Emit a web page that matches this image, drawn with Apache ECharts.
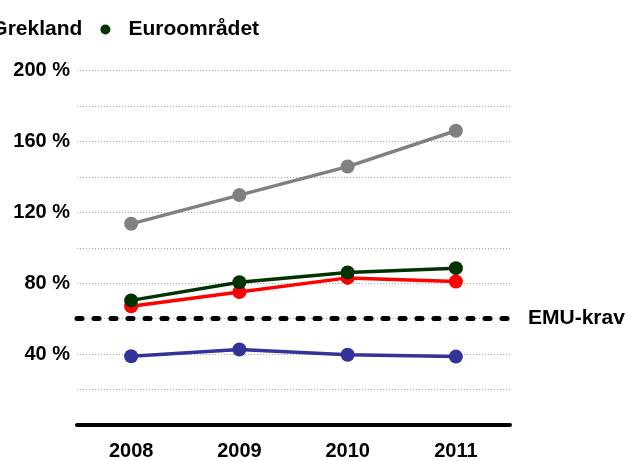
<!DOCTYPE html>
<html>
<head>
<meta charset="utf-8">
<script src="https://cdn.jsdelivr.net/npm/echarts@6/dist/echarts.min.js"></script>
<style>
  html, body { margin: 0; padding: 0; background: #fff; }
  #chart { width: 628px; height: 461px; }
</style>
</head>
<body>
<div id="chart"></div>
<script>
const years = ['2008', '2009', '2010', '2011']
const sverige = [38.8, 42.6, 39.6, 38.6]
const tyskland = [67, 75, 83, 81]
const grekland = [113.5, 129.7, 145.8, 166]
const euroomradet = [70.3, 80.5, 86, 88.5]
const emuKrav = 60

const FONT = '"Liberation Sans", Arial, sans-serif'

const chart = echarts.init(document.getElementById('chart'), null, { renderer: 'canvas' })

function line(name, data, color) {
  return {
    name,
    type: 'line',
    data,
    symbol: 'circle',
    symbolSize: 14,
    itemStyle: { color },
    lineStyle: { color, width: 3.5 },
    animation: false,
  }
}

const sverigeSeries = line('Sverige', sverige, '#333399')
// dashed 60 % reference line
sverigeSeries.markLine = {
  silent: true,
  symbol: 'none',
  data: [{ yAxis: emuKrav }],
  lineStyle: { color: '#000', width: 5, type: [5, 12], cap: 'round' },
  label: {
    show: true,
    position: 'end',
    distance: 18,
    formatter: 'EMU-krav',
    color: '#000',
    fontFamily: FONT,
    fontSize: 21,
    fontWeight: 'bold',
  },
  animation: false,
}

const option = {
  backgroundColor: '#fff',
  legend: {
    left: -299,
    top: 14,
    width: 900,
    icon: 'circle',
    itemWidth: 36,
    itemHeight: 10,
    itemGap: 18,
    data: ['Sverige', 'Tyskland', 'Grekland', 'Euroområdet'],
    textStyle: { color: '#000', fontFamily: FONT, fontSize: 21, fontWeight: 'bold' },
  },
  grid: { left: 77, right: 118, top: 70.5, bottom: 33.3 },
  xAxis: {
    type: 'category',
    data: years,
    axisLine: { show: true, lineStyle: { color: '#000', width: 4 } },
    axisTick: { show: false },
    axisLabel: {
      color: '#000',
      fontFamily: FONT,
      fontSize: 20,
      fontWeight: 'bold',
      margin: 16,
    },
  },
  yAxis: {
    type: 'value',
    min: 0,
    max: 200,
    interval: 20,
    axisLine: { show: false },
    axisTick: { show: false },
    splitLine: { lineStyle: { color: '#aaa', width: 1, type: [1, 2] } },
    axisLabel: {
      color: '#000',
      fontFamily: FONT,
      fontSize: 20,
      fontWeight: 'bold',
      margin: 7,
      formatter: (v) => (v > 0 && v % 40 === 0 ? v + ' %' : ''),
    },
  },
  series: [
    sverigeSeries,
    line('Tyskland', tyskland, '#ff0000'),
    line('Grekland', grekland, '#808080'),
    line('Euroområdet', euroomradet, '#003300'),
  ],
}

chart.setOption(option)
</script>
</body>
</html>
